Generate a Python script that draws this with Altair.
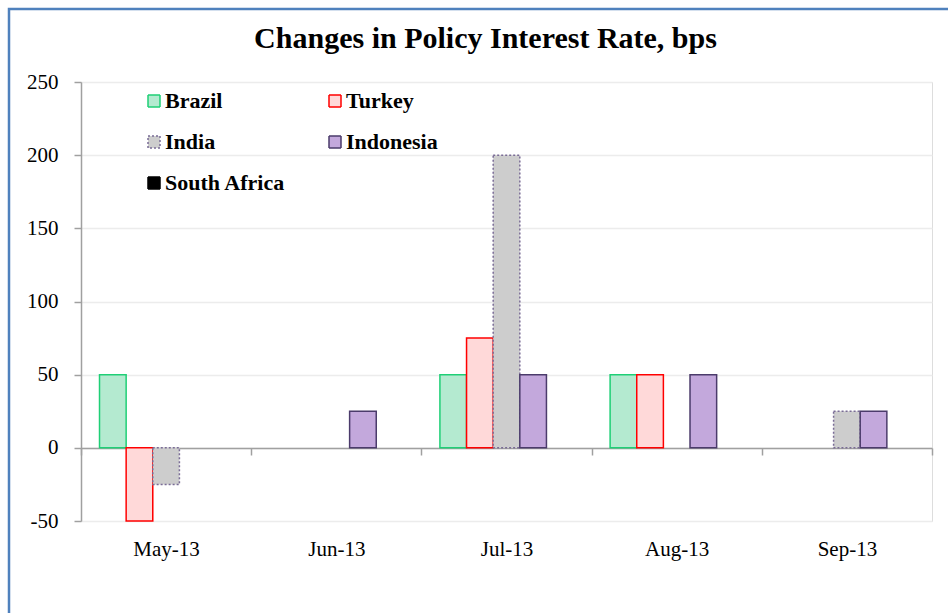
import altair as alt
import pandas as pd

months = ["May-13", "Jun-13", "Jul-13", "Aug-13", "Sep-13"]
series = ["Brazil", "Turkey", "India", "Indonesia", "South Africa"]
brazil = [50, None, 50, 50, None]
turkey = [-50, None, 75, 50, None]
india = [-25, None, 200, None, 25]
indonesia = [None, 25, 50, 50, 25]
south_africa = [None, None, None, None, None]
y_ticks = [-50, 0, 50, 100, 150, 200, 250]

# legend is filled column by column, so this order gives rows
# Brazil/Turkey, India/Indonesia, South Africa
legend_order = ["Brazil", "India", "South Africa", "Turkey", "Indonesia"]
fill_of = {"Brazil": "#b4ead0", "Turkey": "#ffd9d9", "India": "#cdcdcd",
           "Indonesia": "#c3a8dc", "South Africa": "#000000"}
stroke_of = {"Brazil": "#1fcf76", "Turkey": "#ff0000", "India": "#7a6c96",
             "Indonesia": "#4b3b6b", "South Africa": "#000000"}
dash_of = {"Brazil": [1, 0], "Turkey": [1, 0], "India": [2, 2],
           "Indonesia": [1, 0], "South Africa": [1, 0]}

rows = []
for name, vals in zip(series, [brazil, turkey, india, indonesia, south_africa]):
    for m, v in zip(months, vals):
        if v is not None:
            rows.append({"month": m, "country": name, "bps": v})
df = pd.DataFrame(rows)

SERIF = "Liberation Serif"

legend = alt.Legend(
    title=None, orient="none", legendX=62, legendY=8, columns=2,
    columnPadding=38, rowPadding=19, padding=0,
    symbolType="square", symbolSize=144, symbolStrokeWidth=1.5,
    labelFont=SERIF, labelFontSize=22, labelFontWeight="bold",
    labelColor="black", labelOffset=0, labelLimit=300,
)

bars = alt.Chart(df).mark_bar(strokeWidth=1.5).encode(
    x=alt.X("month:N", sort=months,
            scale=alt.Scale(domain=months, paddingInner=0, paddingOuter=0),
            axis=alt.Axis(title=None, offset=-73, tickBand="extent", labelAngle=0,
                          domainColor="#a0a0a0", tickColor="#a0a0a0", tickSize=7,
                          domainWidth=1.5, tickWidth=1.5,
                          labelFont=SERIF, labelFontSize=21, labelColor="black",
                          labelPadding=83, grid=False)),
    xOffset=alt.XOffset("country:N",
                        scale=alt.Scale(domain=series, paddingInner=0, paddingOuter=0.695)),
    y=alt.Y("bps:Q", scale=alt.Scale(domain=[-50, 250], nice=False),
            axis=alt.Axis(title=None, values=y_ticks, grid=True, gridColor="#ececec",
                          gridWidth=1.5, domainColor="#a0a0a0", domainWidth=1.5,
                          tickColor="#a0a0a0", tickSize=7, tickWidth=1.5,
                          labelExpr="'' + datum.value",
                          labelFont=SERIF, labelFontSize=21, labelColor="black",
                          labelPadding=16)),
    fill=alt.Fill("country:N", scale=alt.Scale(domain=legend_order,
                  range=[fill_of[s] for s in legend_order]), legend=legend),
    stroke=alt.Stroke("country:N", scale=alt.Scale(domain=legend_order,
                      range=[stroke_of[s] for s in legend_order]), legend=legend),
    strokeDash=alt.StrokeDash("country:N", scale=alt.Scale(domain=legend_order,
                              range=[dash_of[s] for s in legend_order]), legend=legend),
)

frame = alt.Chart(pd.DataFrame({"f": [0]})).mark_rect(
    fill=None, stroke="#4f81bd", strokeWidth=2.5
).encode(
    x=alt.value(-72), x2=alt.value(900), y=alt.value(-73), y2=alt.value(700)
)

chart = alt.layer(frame, bars).properties(
    width=851, height=439,
    title=alt.TitleParams(text="Changes in Policy Interest Rate, bps", font=SERIF,
                          fontSize=30, fontWeight="bold", color="black",
                          anchor="middle", dx=-21, offset=-70, baseline="alphabetic"),
    autosize=alt.AutoSizeParams(type="none"),
    padding={"left": 81, "top": 82, "right": 16, "bottom": 92},
).configure_view(strokeWidth=0).configure(background="white")

chart.save("out.html", embed_options={"renderer": "svg", "actions": False})
